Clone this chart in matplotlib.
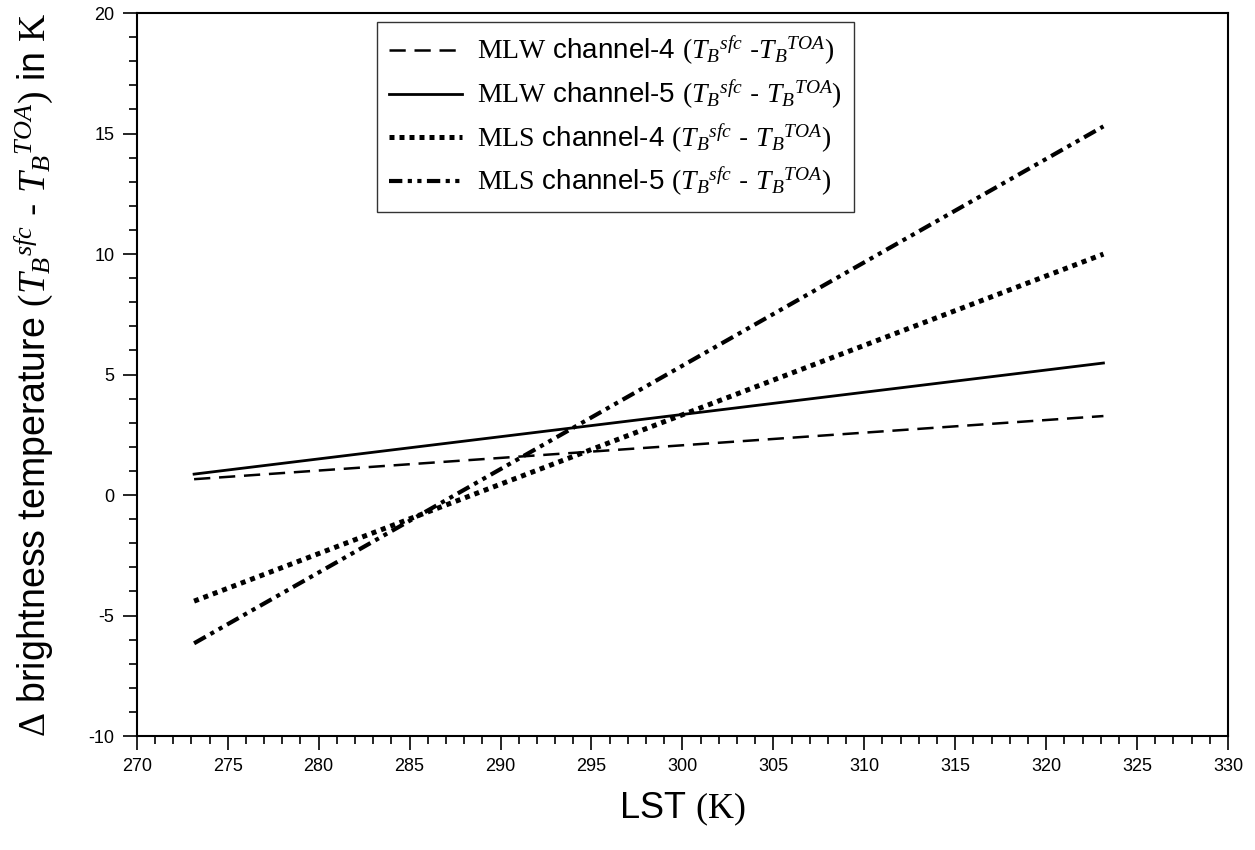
import matplotlib
matplotlib.use("Agg")
import matplotlib.pyplot as plt
from matplotlib.ticker import MultipleLocator

plt.rcParams['font.family'] = ['Liberation Sans', 'DejaVu Sans']
plt.rcParams['mathtext.fontset'] = 'custom'
plt.rcParams['mathtext.rm'] = 'Liberation Serif'
plt.rcParams['mathtext.it'] = 'Liberation Serif:italic'
plt.rcParams['mathtext.bf'] = 'Liberation Serif:bold'
plt.rcParams['axes.unicode_minus'] = False

# LST (K) end points of the simulated curves
lst = [273.15, 323.15]
# delta brightness temperature (K)
mlw_ch4 = [0.66, 3.28]
mlw_ch5 = [0.87, 5.48]
mls_ch4 = [-4.4, 10.0]
mls_ch5 = [-6.15, 15.3]

labels = [
    r"$\mathrm{MLW}$ channel-4 $(T_B{}^{sfc}$ -$T_B{}^{TOA})$",
    r"$\mathrm{MLW}$ channel-5 $(T_B{}^{sfc}$ - $T_B{}^{TOA})$",
    r"$\mathrm{MLS}$ channel-4 $(T_B{}^{sfc}$ - $T_B{}^{TOA})$",
    r"$\mathrm{MLS}$ channel-5 $(T_B{}^{sfc}$ - $T_B{}^{TOA})$",
]

fig = plt.figure(figsize=(12.55, 8.5), dpi=100)
ax = fig.add_axes([0.109, 0.134, 0.8695, 0.8506])

ax.plot(lst, mlw_ch4, color='black', lw=1.8, linestyle=(0, (6.5, 3.5)), label=labels[0])
ax.plot(lst, mlw_ch5, color='black', lw=2.0, linestyle='-', label=labels[1])
ax.plot(lst, mls_ch4, color='black', lw=3.6, linestyle=(0, (1, 1)), label=labels[2])
ax.plot(lst, mls_ch5, color='black', lw=3.0, linestyle=(0, (3.2, 1.3, 1, 1.3, 1, 1.3)),
        label=labels[3])

ax.set_xlim(270, 330)
ax.set_ylim(-10, 20)
ax.xaxis.set_major_locator(MultipleLocator(5))
ax.xaxis.set_minor_locator(MultipleLocator(1))
ax.yaxis.set_major_locator(MultipleLocator(5))
ax.yaxis.set_minor_locator(MultipleLocator(1))
ax.tick_params(which='major', direction='out', length=10, width=1.2, labelsize=13, pad=6)
ax.tick_params(which='minor', direction='out', length=6, width=1.2)
ax.tick_params(top=False, right=False, which='both')
for s in ax.spines.values():
    s.set_linewidth(1.5)

ax.set_xlabel(r"LST $(\mathrm{K})$", fontsize=26, labelpad=11)
ax.set_ylabel(r"$\Delta$ brightness temperature $(T_B{}^{sfc}$ - $T_B{}^{TOA})$ in $\mathrm{K}$",
              fontsize=27, labelpad=24)

leg = ax.legend(loc='upper left', bbox_to_anchor=(0.22, 0.9876), borderaxespad=0,
                fontsize=20, frameon=True, fancybox=False, edgecolor='black',
                handlelength=2.6, borderpad=0.45, labelspacing=0.38, handletextpad=0.55)
leg.get_frame().set_linewidth(1.0)

fig.savefig("out.png", dpi=100)
